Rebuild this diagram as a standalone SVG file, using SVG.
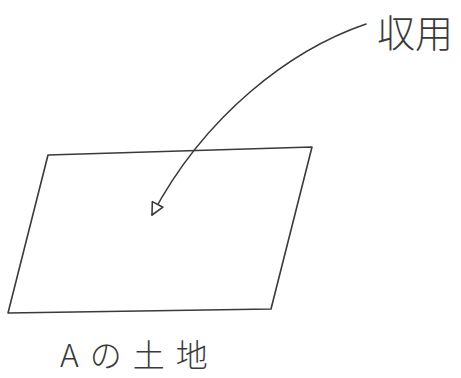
<svg xmlns="http://www.w3.org/2000/svg" width="461" height="378" viewBox="0 0 461 378">
<style>
.ln{fill:none;stroke:#3a3a3a;stroke-width:1.6;stroke-linecap:round;stroke-linejoin:round}
.lbl{font-family:"Noto Sans CJK JP","Noto Sans",sans-serif;fill:#3a3a3a;font-weight:300}
</style>
<defs>
<marker id="ah" markerWidth="20" markerHeight="20" refX="15" refY="8" orient="auto" markerUnits="userSpaceOnUse">
<path d="M15 8 L3 2 L3 14 Z" fill="#fff" stroke="#3a3a3a" stroke-width="1.6" stroke-linejoin="round"/>
</marker>
</defs>
<rect width="461" height="378" fill="#fff"/>
<g id="land">
<path class="ln" d="M48 155 L312 147 L271 309 L8 313 Z"/>
<text class="lbl" x="60" y="367" font-size="32" letter-spacing="11">Aの土地</text>
</g>
<g id="expropriation">
<text class="lbl" x="377" y="47" font-size="38">収用</text>
</g>
<g id="connectors">
<path class="ln" d="M366 24 C290 50 205 115 152 215" marker-end="url(#ah)"/>
</g>
</svg>
